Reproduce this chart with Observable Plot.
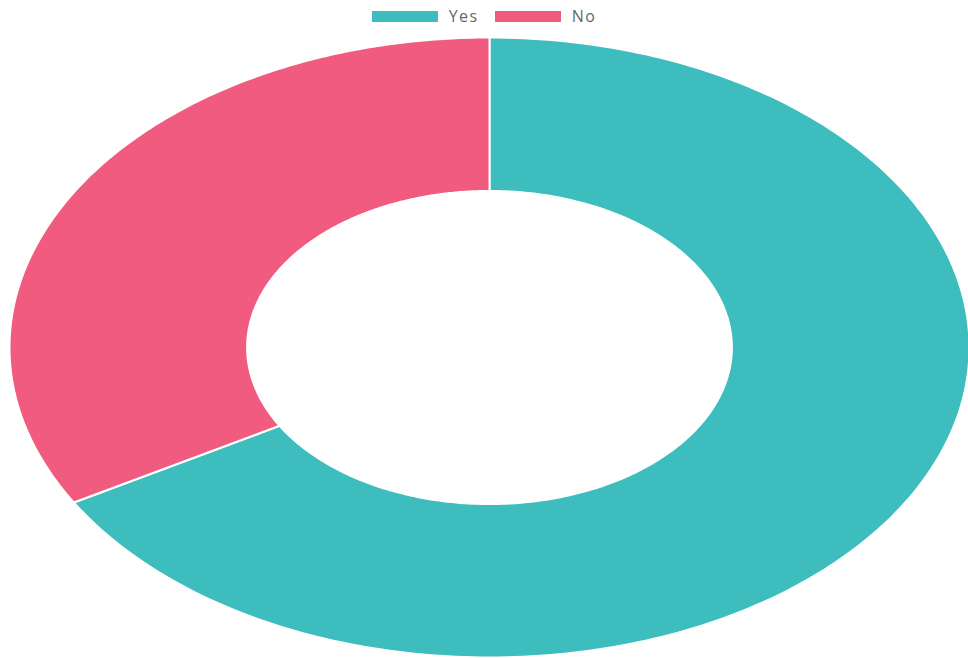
<!DOCTYPE html>
<html>
<head>
<meta charset="utf-8">
<script src="https://cdn.jsdelivr.net/npm/d3@7"></script>
<script src="https://cdn.jsdelivr.net/npm/@observablehq/plot@0.6"></script>
<style>
  html, body { margin: 0; padding: 0; background: #fff; }
  body { width: 968px; height: 658px; overflow: hidden; font-family: "Open Sans", "Helvetica Neue", Arial, sans-serif; }
  #legend { height: 30px; display: flex; justify-content: center; align-items: center; padding-top: 2px; box-sizing: border-box; }
  .item { display: flex; align-items: center; margin: 0 8px; color: #666; font-size: 16px; letter-spacing: 1.5px; }
  .swatch { width: 66px; height: 11px; margin-right: 11px; }
  #chart svg { display: block; }
</style>
</head>
<body>
<div id="legend"></div>
<div id="chart"></div>
<script>
const categories = ["Yes", "No"];
const values = [2, 1];
const colors = ["#3dbdbd", "#f05b7f"];

// legend
const legend = document.getElementById("legend");
categories.forEach((c, i) => {
  const it = document.createElement("div");
  it.className = "item";
  it.innerHTML = `<span class="swatch" style="background:${colors[i]}"></span><span>${c}</span>`;
  legend.appendChild(it);
});

// build donut polygons in normalized units (ellipse stretching comes from x/y scales)
const pie = d3.pie().sort(null).value(d => d.value)(categories.map((c, i) => ({category: c, value: values[i]})));
const inner = 0.505, outer = 1;
const pts = [];
pie.forEach(s => {
  const n = 240;
  const ring = [];
  for (let k = 0; k <= n; k++) {
    const a = s.startAngle + (s.endAngle - s.startAngle) * k / n;
    ring.push({category: s.data.category, x: outer * Math.sin(a), y: outer * Math.cos(a)});
  }
  for (let k = n; k >= 0; k--) {
    const a = s.startAngle + (s.endAngle - s.startAngle) * k / n;
    ring.push({category: s.data.category, x: inner * Math.sin(a), y: inner * Math.cos(a)});
  }
  ring.push({...ring[0]});
  pts.push(...ring);
});

const chart = Plot.plot({
  width: 968,
  height: 628,
  margin: 0,
  x: {domain: [-1, 1], range: [9, 969], axis: null},
  y: {domain: [-1, 1], range: [627, 7], axis: null},
  color: {domain: categories, range: colors},
  marks: [
    Plot.line(pts, {x: "x", y: "y", z: "category", fill: "category", stroke: "#fff", strokeWidth: 2, curve: "linear-closed"})
  ]
});
document.getElementById("chart").appendChild(chart);
</script>
</body>
</html>
